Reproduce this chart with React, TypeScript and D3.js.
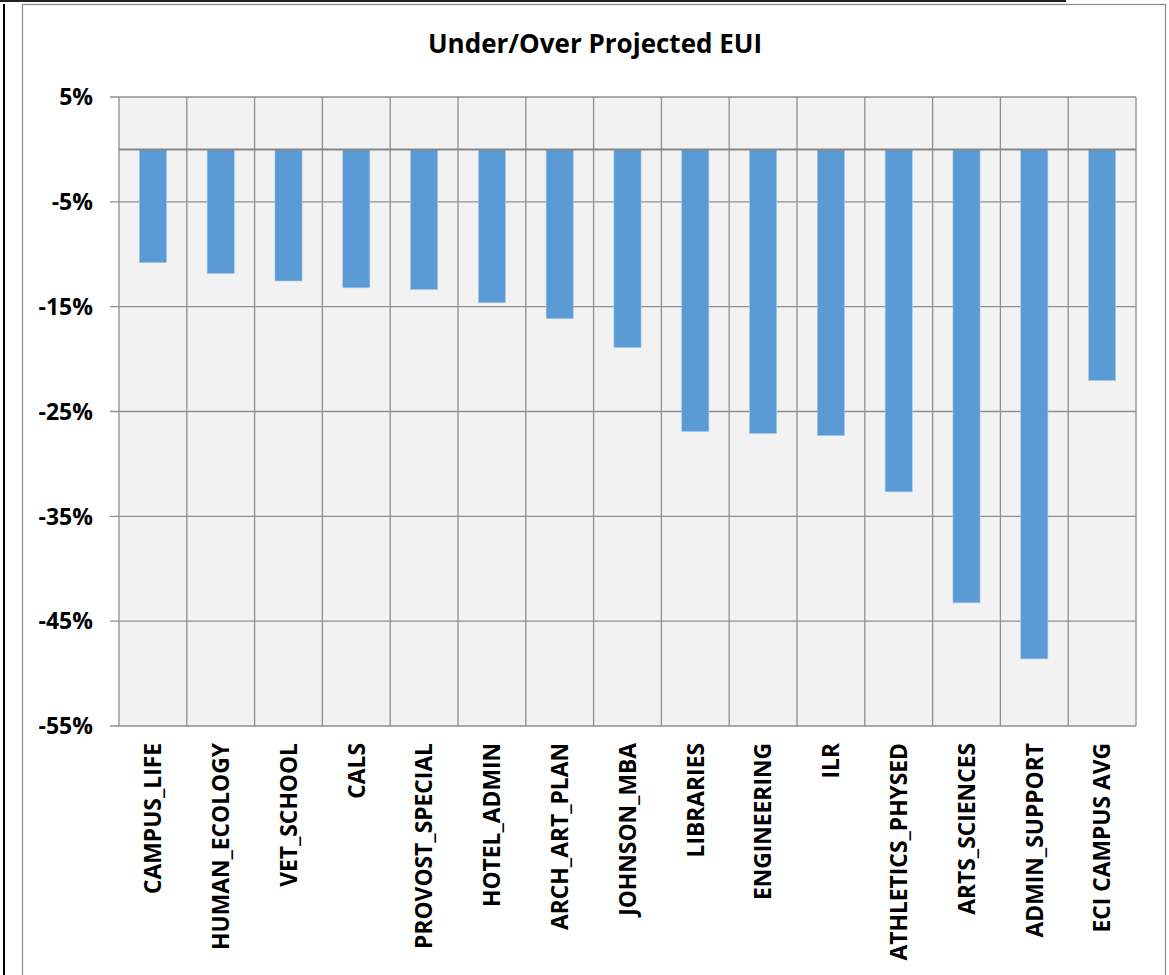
import React from "react";
import * as d3 from "d3";

const categories = [
  "CAMPUS_LIFE",
  "HUMAN_ECOLOGY",
  "VET_SCHOOL",
  "CALS",
  "PROVOST_SPECIAL",
  "HOTEL_ADMIN",
  "ARCH_ART_PLAN",
  "JOHNSON_MBA",
  "LIBRARIES",
  "ENGINEERING",
  "ILR",
  "ATHLETICS_PHYSED",
  "ARTS_SCIENCES",
  "ADMIN_SUPPORT",
  "ECI CAMPUS AVG",
];
const values = [
  -0.108, -0.1185, -0.1255, -0.132, -0.1336, -0.1463, -0.1615, -0.189, -0.269,
  -0.271, -0.273, -0.3266, -0.4325, -0.486, -0.2204,
];
const yTicks = [0.05, -0.05, -0.15, -0.25, -0.35, -0.45, -0.55];
const title = "Under/Over Projected EUI";

const W = 1169;
const H = 975;
const plot = { left: 119, right: 1136, top: 97, bottom: 726 };
const FONT = "'Open Sans', sans-serif";
const GRID = "#8f8f8f";

export default function App() {
  const x = d3
    .scaleBand<string>()
    .domain(categories)
    .range([plot.left, plot.right])
    .paddingInner(0)
    .paddingOuter(0);
  const y = d3.scaleLinear().domain([-0.55, 0.05]).range([plot.bottom, plot.top]);
  const bw = x.bandwidth() * 0.4;
  const pct = d3.format(".0%");
  const fmt = (v: number) => pct(v).replace("\u2212", "-");
  const boundaries = categories.map((c) => x(c) as number).concat([plot.right]);

  return (
    <div style={{ position: "absolute", left: 0, top: 0, width: W, height: H, overflow: "hidden", background: "#fff" }}>
      <svg width={W} height={H} style={{ display: "block" }}>
        <rect x={0} y={0} width={W} height={H} fill="#ffffff" />
        {/* page decorations */}
        <line x1={0} x2={1066} y1={1} y2={1} stroke="#222" strokeWidth={2} />
        <line x1={4} x2={4} y1={4} y2={H} stroke="#000" strokeWidth={2} />
        {/* chart border */}
        <rect x={22.5} y={4.5} width={1143} height={H + 10} fill="#fff" stroke="#8a8a8a" strokeWidth={1.2} />
        {/* title */}
        <text x={595} y={53} textAnchor="middle" fontFamily={FONT} fontWeight={700} fontSize={26} fill="#000">
          {title}
        </text>
        {/* plot background */}
        <rect x={plot.left} y={plot.top} width={plot.right - plot.left} height={plot.bottom - plot.top} fill="#f2f2f2" />
        {/* horizontal gridlines */}
        {yTicks.map((t) => (
          <line key={"h" + t} x1={plot.left - 9} x2={plot.right} y1={y(t)} y2={y(t)} stroke={GRID} strokeWidth={1.3} />
        ))}
        {/* vertical gridlines */}
        {boundaries.map((b, i) => (
          <line key={"v" + i} x1={b} x2={b} y1={plot.top} y2={plot.bottom} stroke={GRID} strokeWidth={1.3} />
        ))}
        {/* bars */}
        {categories.map((c, i) => {
          const v = values[i];
          const cx = (x(c) as number) + x.bandwidth() / 2;
          return (
            <rect
              key={c}
              x={cx - bw / 2}
              y={Math.min(y(0), y(v))}
              width={bw}
              height={Math.abs(y(v) - y(0))}
              fill="#5b9bd5"
              stroke="#a9c9ea"
              strokeWidth={0.6}
            />
          );
        })}
        {/* zero axis line */}
        <line x1={plot.left} x2={plot.right} y1={y(0)} y2={y(0)} stroke="#868686" strokeWidth={2} />
        {/* y tick labels */}
        {yTicks.map((t) => (
          <text
            key={"yl" + t}
            x={93}
            y={y(t)}
            dy="0.36em"
            textAnchor="end"
            fontFamily={FONT}
            fontWeight={700}
            fontSize={23}
            fill="#000"
          >
            {fmt(t)}
          </text>
        ))}
        {/* x labels */}
        {categories.map((c) => {
          const cx = (x(c) as number) + x.bandwidth() / 2;
          return (
            <text
              key={"xl" + c}
              transform={`translate(${cx},743) rotate(-90)`}
              dy="0.36em"
              textAnchor="end"
              fontFamily={FONT}
              fontWeight={700}
              fontSize={22.8}
              fill="#000"
            >
              {c}
            </text>
          );
        })}
      </svg>
    </div>
  );
}
